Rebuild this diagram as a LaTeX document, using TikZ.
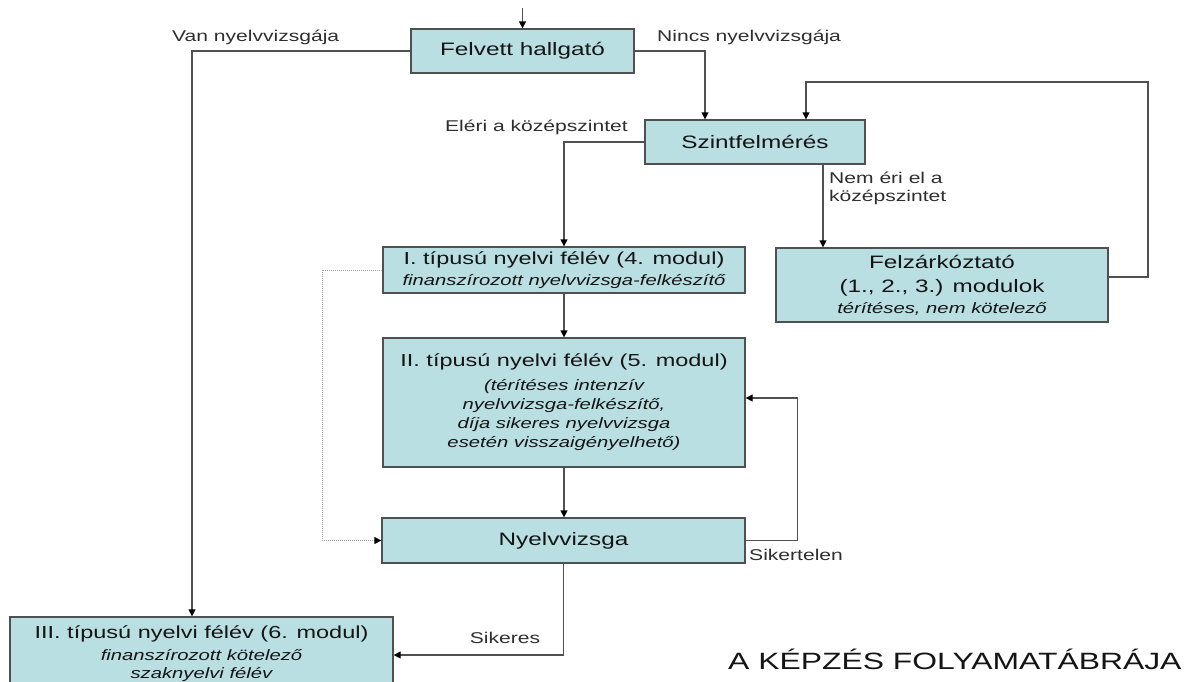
\documentclass[tikz,border=0pt]{standalone}
\usepackage{fontspec}
\setmainfont{Liberation Sans}[FakeStretch=1.35]
\usetikzlibrary{arrows.meta}
\definecolor{boxfill}{HTML}{BADFE3}
\definecolor{boxline}{HTML}{505050}
\definecolor{conn}{HTML}{505050}
\newcommand\subtxt[1]{{\fontsize{15}{19}\selectfont\itshape #1}}
\newcommand\headtxt[1]{{\fontsize{17.4}{21}\selectfont #1}}
\begin{document}
\begin{tikzpicture}[x=1pt,y=-1pt,
  box/.style={draw=boxline, fill=boxfill, line width=1.3pt, inner sep=0pt, align=center,
    text=black!92, font=\fontsize{18}{21}\selectfont},
  lbl/.style={font=\fontsize{15.6}{18}\selectfont, text=black!82, inner sep=0pt, align=left},
  arr/.style={draw=conn, line width=1.3pt, -{Triangle[length=7pt,width=7pt,color=black]}},
  dotarr/.style={draw=black!35, line width=1pt, densely dotted, -{Triangle[length=7pt,width=7pt,color=black]}}]
\useasboundingbox (0,0) rectangle (1190,681);

\node[box, minimum width=223pt, minimum height=44pt] (felvett) at (522.5,51) {Felvett hallgató};
\node[box, minimum width=220pt, minimum height=44pt] (szint) at (755,142) {Szintfelmérés};
\node[box, minimum width=332pt, minimum height=74pt] (felz) at (942,285)
  {Felzárkóztató\\[3pt](1., 2., 3.) modulok\\\subtxt{térítéses, nem kötelező}};
\node[box, minimum width=362pt, minimum height=46pt] (I) at (564,270)
  {\headtxt{I. típusú nyelvi félév (4. modul)}\\\subtxt{finanszírozott nyelvvizsga-felkészítő}};
\node[box, minimum width=362pt, minimum height=129pt] (II) at (564,402.5)
  {\headtxt{II. típusú nyelvi félév (5. modul)}\\[3pt]\subtxt{(térítéses intenzív}\\[-2pt]\subtxt{nyelvvizsga-felkészítő,}\\[-2pt]\subtxt{díja sikeres nyelvvizsga}\\[-2pt]\subtxt{esetén visszaigényelhető)}};
\node[box, minimum width=363pt, minimum height=45pt] (nyelv) at (563.5,540.5) {Nyelvvizsga};
\node[box, minimum width=383pt, minimum height=73pt] (III) at (201.5,653.5)
  {\headtxt{III. típusú nyelvi félév (6. modul)}\\[1pt]\subtxt{finanszírozott kötelező}\\[-3pt]\subtxt{szaknyelvi félév}};

\coordinate (start) at (522.5,8);
\coordinate (fbc) at (1148,82);

\draw[arr] (start) -- (felvett.north);
\draw[arr] (felvett.west) -| ([xshift=-9.5pt]III.north);
\draw[arr] (felvett.east) -| ([xshift=-50pt]szint.north);
\draw[arr] (szint.west) -| (I.north);
\draw[arr] ([xshift=68pt]szint.south) -- ([xshift=68pt]szint.south |- felz.north);
\draw[arr] ([yshift=8pt]felz.east) -| (fbc) -| ([xshift=51pt]szint.north);
\draw[arr] (I.south) -- (II.north);
\draw[arr] (II.south) -- (II.south |- nyelv.north);
\draw[arr] (nyelv.east) -- ++(52,0) |- ([yshift=4.5pt]II.east);
\draw[dotarr] (I.west) -- ++(-60,0) |- (nyelv.west);
\draw[arr] (nyelv.south) |- ([yshift=-1.5pt]III.east);

\node[lbl, anchor=west] (lvan) at (172,37) {Van nyelvvizsgája};
\node[lbl, anchor=west] (lnincs) at (657,37) {Nincs nyelvvizsgája};
\node[lbl, anchor=east] (leleri) at (628,127) {Eléri a középszintet};
\node[lbl, anchor=north west] (lnem) at (829,172) {Nem éri el a\\középszintet};
\node[lbl, anchor=west] (lsikertelen) at (749,555) {Sikertelen};
\node[lbl] (lsikeres) at (505,638) {Sikeres};
\node[anchor=west, inner sep=0pt, font=\fontsize{23.6}{27}\selectfont, text=black!92] (title) at (728,659) {A KÉPZÉS FOLYAMATÁBRÁJA};
\end{tikzpicture}
\end{document}
